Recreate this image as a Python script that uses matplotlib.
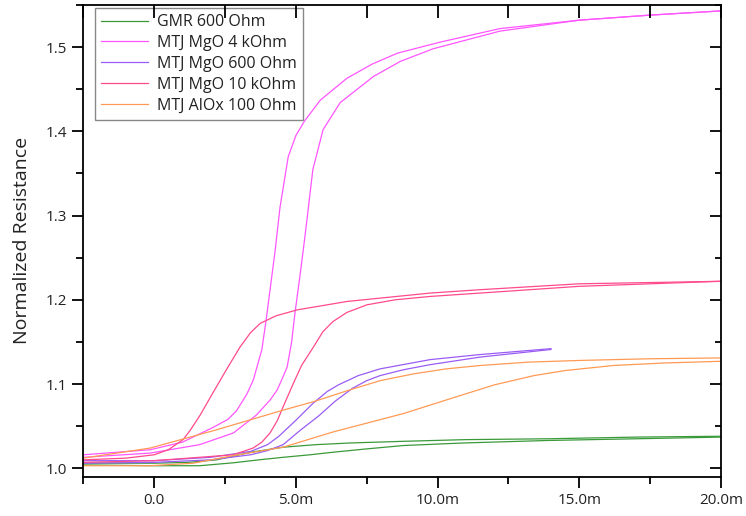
import numpy as np
import matplotlib
matplotlib.use("Agg")
import matplotlib.pyplot as plt
from matplotlib.ticker import FixedLocator, MultipleLocator, NullFormatter

plt.rcParams['font.family'] = ['Open Sans', 'DejaVu Sans']

# Field values in milli-units, each loop as two branches
gmr_up_x = [-2.5, 0.0, 1.2, 2.2, 3.4, 4.55, 5.7, 6.9, 8.8, 11.0, 13.9, 17.0, 20.0]
gmr_up_y = [1.006, 1.006, 1.007, 1.010, 1.019, 1.025, 1.028, 1.030, 1.032, 1.034, 1.035, 1.037, 1.038]
gmr_dn_x = [-2.5, 0.0, 1.6, 2.8, 3.7, 4.55, 5.5, 6.3, 7.5, 8.8, 10.9, 13.9, 17.0, 20.0]
gmr_dn_y = [1.004, 1.003, 1.003, 1.0065, 1.010, 1.013, 1.016, 1.019, 1.023, 1.027, 1.030, 1.033, 1.035, 1.037]

mgo4k_a_x = [-2.5, -0.14, 1.0, 2.05, 2.6, 2.9, 3.27, 3.5, 3.8, 3.95, 4.27, 4.44, 4.73, 5.0, 5.3, 5.86, 6.8, 7.7, 8.6, 10.1, 12.2, 15.0, 17.5, 20.0]
mgo4k_a_y = [1.016, 1.022, 1.031, 1.048, 1.058, 1.068, 1.088, 1.105, 1.141, 1.176, 1.259, 1.310, 1.370, 1.395, 1.412, 1.437, 1.463, 1.480, 1.493, 1.506, 1.522, 1.532, 1.538, 1.543]
mgo4k_b_x = [-2.5, -0.14, 1.6, 2.8, 3.6, 4.09, 4.34, 4.5, 4.69, 4.85, 4.97, 5.13, 5.26, 5.39, 5.6, 5.96, 6.56, 7.73, 8.68, 9.84, 12.2, 15.0, 17.5, 20.0]
mgo4k_b_y = [1.013, 1.018, 1.028, 1.042, 1.063, 1.081, 1.093, 1.105, 1.120, 1.150, 1.185, 1.225, 1.259, 1.295, 1.355, 1.402, 1.434, 1.465, 1.483, 1.498, 1.519, 1.532, 1.538, 1.543]

mgo600_a_x = [-2.5, 0.0, 2.0, 3.4, 4.0, 4.4, 5.0, 5.6, 6.1, 6.5, 7.2, 7.97, 9.74, 11.5, 14.0]
mgo600_a_y = [1.009, 1.009, 1.013, 1.020, 1.028, 1.038, 1.057, 1.077, 1.091, 1.099, 1.110, 1.118, 1.129, 1.135, 1.142]
mgo600_b_x = [-2.5, 0.0, 2.0, 3.4, 4.0, 4.55, 5.15, 5.8, 6.4, 7.0, 7.5, 7.97, 8.8, 9.74, 11.5, 14.0]
mgo600_b_y = [1.006, 1.007, 1.010, 1.016, 1.021, 1.028, 1.045, 1.062, 1.080, 1.095, 1.104, 1.110, 1.117, 1.123, 1.132, 1.141]

mgo10k_a_x = [-2.5, -1.0, 0.0, 0.5, 1.02, 1.27, 1.62, 2.08, 2.6, 3.03, 3.4, 3.74, 4.3, 5.04, 6.8, 7.97, 9.74, 11.5, 15.0, 20.0]
mgo10k_a_y = [1.010, 1.012, 1.016, 1.022, 1.034, 1.045, 1.063, 1.090, 1.120, 1.144, 1.161, 1.172, 1.181, 1.188, 1.198, 1.202, 1.208, 1.212, 1.219, 1.222]
mgo10k_b_x = [-2.5, 0.0, 2.79, 3.49, 3.8, 4.09, 4.35, 4.55, 4.9, 5.2, 5.62, 5.95, 6.3, 6.8, 7.5, 8.5, 9.74, 11.5, 15.0, 20.0]
mgo10k_b_y = [1.007, 1.009, 1.016, 1.024, 1.031, 1.042, 1.057, 1.073, 1.100, 1.122, 1.144, 1.162, 1.174, 1.185, 1.194, 1.200, 1.204, 1.208, 1.216, 1.222]

alox_a_x = [-2.5, -0.14, 2.13, 4.55, 5.62, 6.9, 7.97, 9.14, 10.3, 11.5, 13.2, 15.0, 17.5, 20.0]
alox_a_y = [1.012, 1.024, 1.045, 1.069, 1.079, 1.093, 1.104, 1.112, 1.118, 1.122, 1.126, 1.128, 1.130, 1.131]
alox_b_x = [-2.5, -0.14, 1.38, 2.79, 4.55, 6.3, 8.8, 10.3, 12.0, 13.4, 14.5, 16.2, 18.0, 20.0]
alox_b_y = [1.003, 1.003, 1.006, 1.015, 1.025, 1.043, 1.065, 1.081, 1.099, 1.110, 1.116, 1.122, 1.125, 1.127]

series = [
    ("GMR 600 Ohm", "#3a9a3a", (gmr_up_x, gmr_up_y), (gmr_dn_x, gmr_dn_y)),
    ("MTJ MgO 4 kOhm", "#ff55ff", (mgo4k_a_x, mgo4k_a_y), (mgo4k_b_x, mgo4k_b_y)),
    ("MTJ MgO 600 Ohm", "#9a5cf5", (mgo600_a_x, mgo600_a_y), (mgo600_b_x, mgo600_b_y)),
    ("MTJ MgO 10 kOhm", "#ff4a8c", (mgo10k_a_x, mgo10k_a_y), (mgo10k_b_x, mgo10k_b_y)),
    ("MTJ AlOx 100 Ohm", "#ff9a55", (alox_a_x, alox_a_y), (alox_b_x, alox_b_y)),
]

x_ticks = [0, 5, 10, 15, 20]
x_tick_labels = ["0.0", "5.0m", "10.0m", "15.0m", "20.0m"]
y_ticks = [1.0, 1.1, 1.2, 1.3, 1.4, 1.5]

fig = plt.figure(figsize=(7.46, 5.16), dpi=100)
ax = fig.add_axes([0.1117, 0.0762, 0.8548, 0.9141])

for name, color, br1, br2 in series:
    ax.plot(br1[0], br1[1], color=color, lw=0.9, label=name)
    ax.plot(br2[0], br2[1], color=color, lw=0.9)

xlim = (-2.5, 20)
ylim = (0.99, 1.55)
ax.set_xlim(*xlim)
ax.set_ylim(*ylim)
ax.xaxis.set_major_locator(FixedLocator(x_ticks))
ax.set_xticklabels(x_tick_labels)
ax.xaxis.set_minor_locator(MultipleLocator(2.5))
ax.yaxis.set_major_locator(FixedLocator(y_ticks))
ax.set_yticklabels([f"{v:.1f}" for v in y_ticks])
ax.yaxis.set_minor_locator(MultipleLocator(0.05))

for s in ax.spines.values():
    s.set_linewidth(1.3)
    s.set_color('black')

ax.tick_params(axis='both', which='major', labelsize=11, labelcolor='#222222', width=1.3)
ax.tick_params(axis='x', which='major', direction='out', length=8, top=False)
ax.tick_params(axis='x', which='minor', direction='out', length=5, width=1.3, top=False)
ax.tick_params(axis='y', which='major', direction='out', length=8, right=False)
ax.tick_params(axis='y', which='minor', direction='out', length=5, width=1.3, right=False)

# inward ticks on top and right
axt = ax.twiny()
axt.set_xlim(*xlim)
axt.xaxis.set_major_locator(MultipleLocator(2.5))
axt.xaxis.set_major_formatter(NullFormatter())
axt.tick_params(direction='in', length=9, width=1.3)
axr = ax.twinx()
axr.set_ylim(*ylim)
axr.yaxis.set_major_locator(FixedLocator(y_ticks))
axr.yaxis.set_minor_locator(MultipleLocator(0.05))
axr.yaxis.set_major_formatter(NullFormatter())
axr.tick_params(which='major', direction='in', length=8, width=1.3)
axr.tick_params(which='minor', direction='in', length=4, width=1.3)
for a in (axt, axr):
    for s in a.spines.values():
        s.set_visible(False)

ax.set_ylabel("Normalized Resistance", fontsize=14, color='#222222', labelpad=11)

leg = ax.legend(loc='upper left', bbox_to_anchor=(0.018, 0.994), borderaxespad=0,
                fancybox=False, framealpha=1, edgecolor='#888888', fontsize=11.5,
                handlelength=2.9, handletextpad=0.6, labelspacing=0.3,
                borderpad=0.4)
leg.get_frame().set_linewidth(1.0)
leg.set_zorder(5)
for t in leg.get_texts():
    t.set_color('#222222')

fig.savefig("out.png", dpi=100)
